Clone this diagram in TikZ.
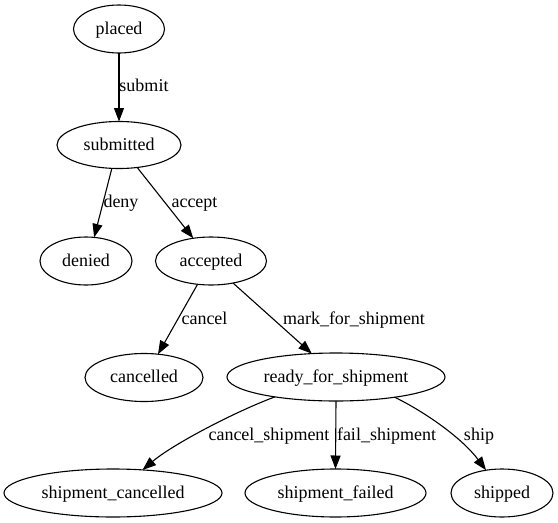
\documentclass[tikz,border=0pt]{standalone}
\usepackage{fontspec}
\setmainfont{Liberation Serif}
\usetikzlibrary{shapes.geometric,arrows.meta}
\begin{document}
\begin{tikzpicture}[x=1pt,y=-1pt,
  every node/.style={font=\fontsize{18}{22}\selectfont, text height=13pt, text depth=3pt, inner sep=0pt, outer sep=0pt},
  state/.style={ellipse, draw, line width=1.1pt, minimum height=48pt},
  lbl/.style={},
  edge/.style={line width=1.1pt, -{Triangle[length=13.5pt,width=10pt]}}]
\useasboundingbox (0,0) rectangle (558,523);
% nodes
\node[state, minimum width=91pt]  (placed)    at (119,29)    {placed};
\node[state, minimum width=124pt, minimum height=47pt] (submitted) at (119,145) {submitted};
\node[state, minimum width=92pt]  (denied)    at (86,261)    {denied};
\node[state, minimum width=111pt] (accepted)  at (211,261)   {accepted};
\node[state, minimum width=118pt] (cancelled) at (144,377.5) {cancelled};
\node[state, minimum width=218pt] (ready)     at (336,377)   {ready\_for\_shipment};
\node[state, minimum width=218pt] (scan)      at (113,493)   {shipment\_cancelled};
\node[state, minimum width=181pt] (sfail)     at (335.5,493) {shipment\_failed};
\node[state, minimum width=102pt] (shipped)   at (502,493)   {shipped};
% edges
\draw[edge] (placed.south) -- (submitted.north);
\draw[edge] (submitted.-107.4) -- (denied.71.3);
\draw[edge] (submitted.-51.8) -- (accepted.128.4);
\draw[edge] (accepted.-120) -- (cancelled.59);
\draw[edge] (accepted.-45) -- (ready.136.4);
\draw[edge] (ready.198) .. controls (232,413) and (172,445) .. (scan.38.5);
\draw[edge] (ready.south) -- (sfail.north);
\draw[edge] (ready.-19) .. controls (425,412) and (462,438) .. (shipped.125);
% labels
\node[lbl] (l1) at (144,86)    {submit};
\node[lbl] (l2) at (121,202)   {deny};
\node[lbl] (l3) at (194.5,202) {accept};
\node[lbl] (l4) at (204.5,319) {cancel};
\node[lbl] (l5) at (354,319)   {mark\_for\_shipment};
\node[lbl] (l6) at (269,435)   {cancel\_shipment};
\node[lbl] (l7) at (386.5,435) {fail\_shipment};
\node[lbl] (l8) at (479,435)   {ship};
\end{tikzpicture}
\end{document}
